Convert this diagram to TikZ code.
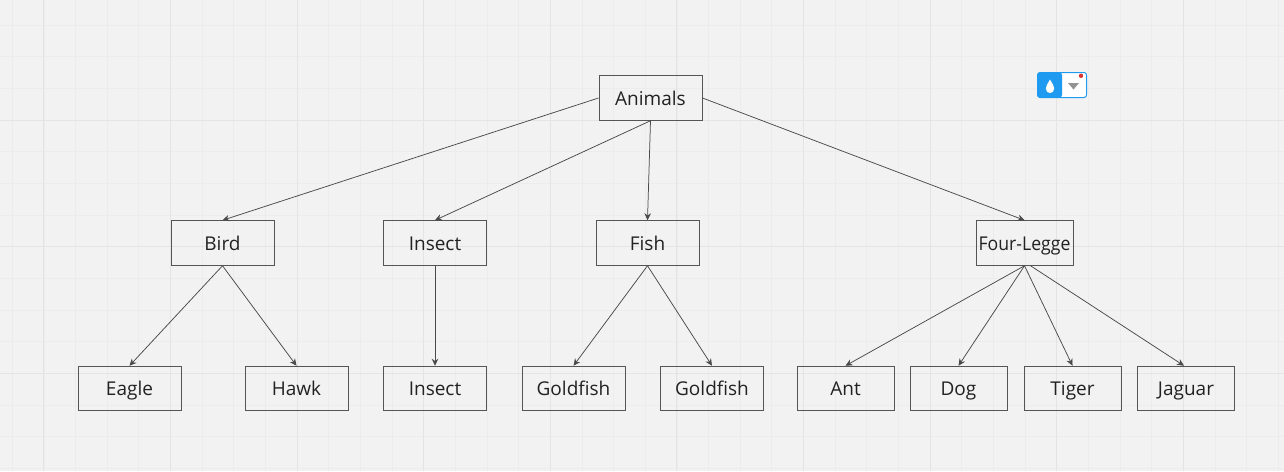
\documentclass[tikz,border=0pt]{standalone}
\usepackage{fontspec}
\setmainfont{Open Sans}
\newfontfamily\narrowfont[FakeStretch=0.93]{Open Sans}
\usetikzlibrary{arrows.meta}
\definecolor{bgc}{HTML}{F2F2F2}
\definecolor{gridminor}{HTML}{ECECEC}
\definecolor{gridmajor}{HTML}{E4E4E4}
\definecolor{edgec}{HTML}{4A4A4A}
\definecolor{boxc}{HTML}{555555}
\definecolor{txtc}{HTML}{222222}
\definecolor{widgetblue}{HTML}{1E9BF0}
\tikzset{
  box/.style={draw=boxc,line width=1pt,minimum height=44.5pt,inner sep=0pt,text height=14pt,text depth=0pt,anchor=center,text=txtc,font=\fontsize{19}{22}\selectfont},
  wbox/.style={box,minimum width=103pt},
  nbox/.style={box,minimum width=97pt},
  conn/.style={draw=edgec,line width=0.75pt,-{Stealth[length=7pt,width=6.5pt]}}
}
\begin{document}
\begin{tikzpicture}[x=1pt,y=-1pt]
\useasboundingbox (0,0) rectangle (1284,471);
\fill[bgc] (0,0) rectangle (1284,471);
% minor grid
\foreach \i in {0,...,40} {
  \draw[gridminor,line width=0.9pt] ({12.3+31.65*\i},0) -- ({12.3+31.65*\i},471);
}
\foreach \i in {0,...,14} {
  \draw[gridminor,line width=0.9pt] (0,{25.2+31.65*\i}) -- (1284,{25.2+31.65*\i});
}
% major grid
\foreach \i in {0,...,9} {
  \draw[gridmajor,line width=1pt] ({43.9+126.6*\i},0) -- ({43.9+126.6*\i},471);
}
\foreach \yy in {120.2,246.8,373.4} {
  \draw[gridmajor,line width=1pt] (0,\yy) -- (1284,\yy);
}
% nodes
\node[wbox] (animals) at (650.5,98) {Animals};
\node[wbox] (bird) at (222.5,243) {Bird};
\node[wbox] (insect) at (435,243) {Insect};
\node[wbox] (fish) at (647.5,243) {Fish};
\node[nbox,font=\fontsize{19}{22}\narrowfont] (four) at (1024.5,243) {Four-Legge};
\node[wbox] (eagle) at (129.5,388.5) {Eagle};
\node[wbox] (hawk) at (296.5,388.5) {Hawk};
\node[wbox] (insectb) at (435,388.5) {Insect};
\node[wbox] (goldfisha) at (573.5,388.5) {Goldfish};
\node[wbox] (goldfishb) at (712,388.5) {Goldfish};
\node[nbox] (ant) at (845.5,388.5) {Ant};
\node[nbox] (dog) at (958.5,388.5) {Dog};
\node[nbox] (tiger) at (1072.5,388.5) {Tiger};
\node[nbox] (jaguar) at (1186,388.5) {Jaguar};
% connectors
\draw[conn] (animals.west) -- (bird.north);
\draw[conn] (animals.south) -- (insect.north);
\draw[conn] (animals.south) -- (fish.north);
\draw[conn] (animals.east) -- (four.north);
\draw[conn] (bird.south) -- (eagle.north);
\draw[conn] (bird.south) -- (hawk.north);
\draw[conn] (insect.south) -- (insectb.north);
\draw[conn] (fish.south) -- (goldfisha.north);
\draw[conn] (fish.south) -- (goldfishb.north);
\draw[conn] (four.south) -- (ant.north);
\draw[conn] (four.south) -- (dog.north);
\draw[conn] (four.south) -- (tiger.north);
\draw[conn] ([xshift=6pt]four.south) -- ([xshift=-2pt]jaguar.north);
% widget
\fill[white,rounded corners=2.5pt] (1037.5,72.5) rectangle (1086.5,97.5);
\fill[widgetblue,rounded corners=2.5pt] (1037.5,72.5) -- (1062,72.5) -- (1062,97.5) -- (1037.5,97.5) -- cycle;
\draw[widgetblue,line width=1pt,rounded corners=2.5pt] (1037.5,72.5) rectangle (1086.5,97.5);
\fill[white] (1050,79.5) .. controls (1047.5,84) and (1045.8,86) .. (1045.8,88.5) .. controls (1045.8,94.5) and (1054.2,94.5) .. (1054.2,88.5) .. controls (1054.2,86) and (1052.5,84) .. (1050,79.5) -- cycle;
\fill[gray!85] (1068,83) -- (1079,83) -- (1073.5,89.5) -- cycle;
\fill[red!80!black!80!white] (1081,75.8) circle (2.2pt);
\end{tikzpicture}
\end{document}
